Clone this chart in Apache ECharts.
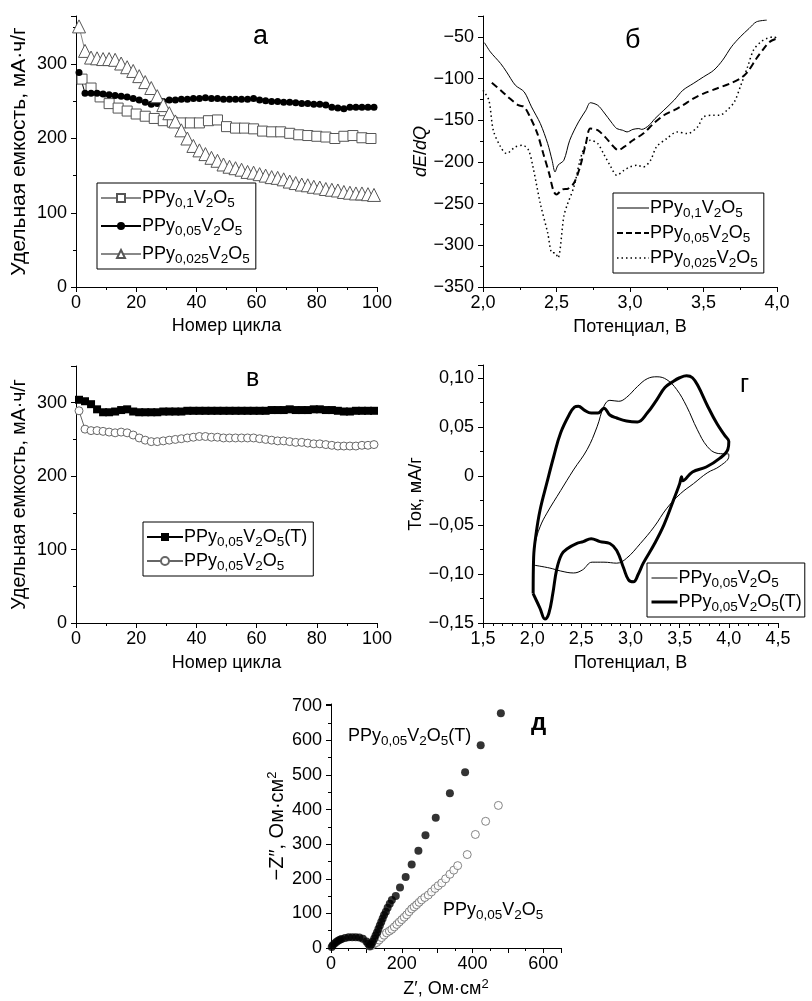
<!DOCTYPE html>
<html><head><meta charset="utf-8">
<script src="https://cdn.jsdelivr.net/npm/echarts@6/dist/echarts.min.js"></script>
<style>html,body{margin:0;padding:0;background:#fff}#c{width:812px;height:1001px}</style>
</head><body><div id="c"></div>
<script>
// ---------- DATA ----------
// Panel а: capacity vs cycle
const cycA = [1,3,5,7,9,11,13,15,17,19,21,23,25,27,29,31,33,35,37,39,41,43,45,47,49,51,53,55,57,59,61,63,65,67,69,71,73,75,77,79,81,83,85,87,89,91,93,95,97,99];
const cycA_sq = [2,5,8,11,14,17,20,23,26,29,32,35,38,41,44,47,50,53,56,59,62,65,68,71,74,77,80,83,86,89,92,95,98];
const capA_01 = [280,268,256,247,241,237,233,230,227,224,222,221,221,221,224,225,216,214,214,213,210,209,209,207,205,204,203,202,200,203,204,201,200];
const capA_005 = [289,261,261,261,260,259,258,257,256,254,252,249,246,247,250,252,252,253,253,254,254,255,254,254,253,253,253,253,253,254,252,251,250,250,249,249,248,247,247,246,246,245,242,241,240,242,242,242,242,242];
const capA_0025 = [351,318,309,308,307,307,306,301,296,291,284,276,268,257,245,234,223,211,200,190,184,179,174,170,165,162,160,158,155,154,152,150,148,147,145,142,140,138,137,135,134,132,131,130,128,127,126,126,125,124];

// Panel б: dE/dQ vs potential [V, dE/dQ]
const dqdv_01 = [[2.01,-57],[2.05,-68],[2.12,-82],[2.16,-92],[2.22,-108],[2.28,-116],[2.33,-134],[2.39,-154],[2.44,-178],[2.47,-198],[2.49,-212],[2.51,-204],[2.55,-198],[2.59,-174],[2.65,-152],[2.70,-138],[2.73,-129],[2.78,-132],[2.82,-140],[2.88,-154],[2.91,-160],[2.95,-162],[2.98,-164],[3.02,-161],[3.06,-160],[3.08,-161],[3.13,-156],[3.17,-148],[3.23,-138],[3.30,-126],[3.36,-114],[3.43,-106],[3.50,-98],[3.57,-90],[3.63,-78],[3.69,-62],[3.75,-50],[3.81,-40],[3.86,-32],[3.93,-30]];
const dqdv_005 = [[2.06,-105],[2.12,-114],[2.17,-122],[2.24,-132],[2.28,-134],[2.32,-146],[2.37,-166],[2.41,-190],[2.45,-214],[2.48,-235],[2.50,-239],[2.54,-233],[2.58,-232],[2.62,-225],[2.66,-206],[2.70,-178],[2.73,-160],[2.78,-162],[2.83,-170],[2.89,-182],[2.92,-186],[2.96,-182],[3.02,-174],[3.09,-166],[3.16,-154],[3.23,-144],[3.30,-138],[3.36,-132],[3.43,-124],[3.50,-118],[3.59,-112],[3.68,-106],[3.75,-100],[3.80,-92],[3.86,-76],[3.91,-64],[3.95,-56],[4.00,-52]];
const dqdv_0025 = [[2.00,-114],[2.04,-126],[2.07,-162],[2.12,-182],[2.16,-190],[2.22,-182],[2.27,-180],[2.31,-186],[2.34,-206],[2.39,-250],[2.44,-285],[2.47,-309],[2.49,-309],[2.51,-315],[2.55,-265],[2.57,-253],[2.62,-229],[2.66,-198],[2.70,-178],[2.73,-174],[2.78,-178],[2.82,-190],[2.87,-206],[2.91,-216],[2.96,-210],[3.00,-206],[3.05,-204],[3.09,-206],[3.14,-198],[3.18,-182],[3.25,-172],[3.32,-164],[3.39,-166],[3.46,-158],[3.50,-146],[3.57,-144],[3.61,-144],[3.66,-138],[3.71,-128],[3.75,-110],[3.80,-86],[3.84,-66],[3.89,-56],[3.93,-52],[3.98,-50],[4.00,-52]];

// Panel в: capacity vs cycle
const cycC = [1,3,5,7,9,11,13,15,17,19,21,23,25,27,29,31,33,35,37,39,41,43,45,47,49,51,53,55,57,59,61,63,65,67,69,71,73,75,77,79,81,83,85,87,89,91,93,95,97,99];
const capC_T = [304,302,298,291,287,287,288,290,291,288,287,287,287,287,288,288,288,288,289,289,289,289,289,289,289,289,289,289,289,289,289,289,290,290,290,291,290,290,290,291,291,290,290,289,288,288,289,289,289,289];
const capC_005 = [289,264,262,262,261,260,259,260,259,256,252,249,247,247,248,249,250,251,252,253,254,254,253,253,252,252,252,252,252,252,251,250,249,248,248,247,246,246,245,244,244,243,242,241,241,241,241,242,242,243];

// Panel г: CV [V, mA/g]
const cv_005 = [[2.015,-0.091],[2.18,-0.094],[2.29,-0.097],[2.42,-0.099],[2.51,-0.096],[2.61,-0.088],[2.73,-0.088],[2.86,-0.089],[2.96,-0.084],[3.10,-0.069],[3.24,-0.052],[3.37,-0.033],[3.51,-0.018],[3.64,-0.008],[3.78,0.003],[3.91,0.010],[4.0,0.020],[4.0,0.022],[3.88,0.023],[3.78,0.030],[3.68,0.047],[3.57,0.071],[3.47,0.088],[3.37,0.098],[3.27,0.101],[3.17,0.099],[3.07,0.091],[2.96,0.080],[2.88,0.076],[2.79,0.077],[2.73,0.071],[2.66,0.050],[2.56,0.027],[2.42,0.006],[2.29,-0.015],[2.15,-0.038],[2.08,-0.052],[2.03,-0.069],[2.015,-0.089]];
const cv_005T = [[2.01,-0.120],[2.08,-0.135],[2.13,-0.146],[2.17,-0.140],[2.21,-0.120],[2.25,-0.095],[2.30,-0.080],[2.36,-0.074],[2.45,-0.069],[2.52,-0.067],[2.60,-0.064],[2.69,-0.067],[2.79,-0.069],[2.86,-0.076],[2.93,-0.094],[2.98,-0.106],[3.03,-0.108],[3.08,-0.100],[3.13,-0.089],[3.24,-0.070],[3.34,-0.050],[3.44,-0.024],[3.50,-0.008],[3.52,-0.001],[3.53,-0.005],[3.63,0.004],[3.77,0.009],[3.91,0.018],[3.99,0.027],[4.0,0.035],[3.96,0.041],[3.88,0.053],[3.78,0.072],[3.69,0.091],[3.63,0.100],[3.57,0.102],[3.50,0.100],[3.43,0.096],[3.35,0.090],[3.27,0.078],[3.17,0.064],[3.07,0.055],[2.96,0.056],[2.86,0.059],[2.79,0.062],[2.73,0.069],[2.67,0.064],[2.60,0.064],[2.53,0.067],[2.47,0.071],[2.43,0.070],[2.38,0.063],[2.29,0.044],[2.22,0.020],[2.15,-0.007],[2.08,-0.035],[2.04,-0.059],[2.015,-0.083],[2.01,-0.120]];

// Panel д: Nyquist [Z', -Z'']
const eis_T = [[2,3],[5,8],[10,13],[15,17],[20,21],[25,24],[30,26],[40,29],[50,31],[60,31],[70,31],[80,30],[90,27],[100,19],[105,12],[110,6],[114,10],[118,18],[122,27],[126,36],[130,45],[134,55],[138,65],[142,75],[146,85],[150,95],[155,105],[160,116],[166,128],[172,139],[183,150],[195,175],[211,205],[228,241],[247,281],[267,326],[296,376],[336,447],[379,508],[423,586],[480,678]];
const eis_005 = [[110,5],[115,7],[122,12],[129,16],[136,23],[143,30],[150,37],[157,44],[165,49],[172,54],[179,61],[186,68],[193,75],[200,82],[207,89],[214,96],[221,105],[228,113],[235,119],[242,125],[249,132],[256,139],[265,146],[275,153],[284,162],[294,172],[303,180],[313,188],[324,200],[336,213],[347,225],[358,238],[385,270],[408,328],[437,366],[473,412]];

// ---------- STYLE ----------
const FONT = '"Liberation Sans", Arial, sans-serif';
const FS = 18;
const rich = {
  n: {fontSize: FS, fontFamily: FONT, fontWeight: 'normal', color: '#000', lineHeight: 22},
  s: {fontSize: 13.5, fontFamily: FONT, fontWeight: 'normal', color: '#000', lineHeight: 13, padding: [10, 0, 0, 0]},
  u: {fontSize: 13, fontFamily: FONT, fontWeight: 'normal', color: '#000', lineHeight: 13, padding: [0, 0, 9, 0]},
  i: {fontSize: FS, fontFamily: FONT, fontWeight: 'normal', color: '#000', lineHeight: 22, fontStyle: 'italic'},
  y: {fontSize: 20, fontFamily: FONT, fontWeight: 'normal', color: '#000', lineHeight: 22}
};
const L01 = '{n|PPy}{s|0,1}{n|V}{s|2}{n|O}{s|5}';
const L05 = '{n|PPy}{s|0,05}{n|V}{s|2}{n|O}{s|5}';
const L025 = '{n|PPy}{s|0,025}{n|V}{s|2}{n|O}{s|5}';
const L05T = L05 + '{n|(T)}';
const labelMap = {A1: L01, A2: L05, A3: L025, B1: L01, B2: L05, B3: L025, C1: L05T, C2: L05, D1: L05, D2: L05T};

const minus = s => s.replace('-', '\u2212');
function axis(grid, min, max, interval, minorSplit, fmt, name, nameGap, isY, nameSize) {
  return {
    type: 'value', gridIndex: grid, min: min, max: max, interval: interval,
    axisLine: {show: true, onZero: false, lineStyle: {color: '#000', width: 1}},
    axisTick: {show: true, length: 5, lineStyle: {color: '#000', width: 1}},
    minorTick: {show: minorSplit > 1, splitNumber: minorSplit, length: 3, lineStyle: {color: '#000', width: 1}},
    splitLine: {show: false}, minorSplitLine: {show: false},
    axisLabel: {color: '#000', fontSize: FS, fontFamily: FONT, margin: isY ? 9 : 7, formatter: fmt, showMaxLabel: true},
    name: name, nameLocation: 'middle', nameGap: nameGap, nameRotate: isY ? 90 : 0,
    nameTextStyle: {color: '#000', fontSize: nameSize || FS, fontFamily: FONT, rich: rich}
  };
}
const intFmt = v => minus(String(Math.round(v)));
const f1 = v => minus(v.toFixed(1).replace('.', ','));
const f2 = v => v === 0 ? '0' : minus(v.toFixed(2).replace('.', ','));
const onlyMult = (m, f) => v => (Math.abs(v / m - Math.round(v / m)) < 1e-6 ? f(v) : '');

const pairs = (xs, ys) => xs.map((x, i) => [x, ys[i]]);

const legendBase = {
  orient: 'vertical', borderColor: '#000', borderWidth: 1, backgroundColor: '#fff',
  itemHeight: 10, formatter: n => labelMap[n], textStyle: {rich: rich, color: '#000', padding: [0, 0, 0, -4]},
  selectedMode: false
};

const option = {
  backgroundColor: '#fff',
  animation: false,
  title: [
    {text: 'а', left: 248, top: 18, textStyle: {fontSize: 27, fontWeight: 'normal', fontFamily: FONT, color: '#000'}},
    {text: 'б', left: 620, top: 22, textStyle: {fontSize: 27, fontWeight: 'normal', fontFamily: FONT, color: '#000'}},
    {text: 'в', left: 241, top: 362, textStyle: {fontSize: 25, fontWeight: 'normal', fontFamily: FONT, color: '#000'}},
    {text: 'г', left: 735, top: 368, textStyle: {fontSize: 25, fontWeight: 'normal', fontFamily: FONT, color: '#000'}},
    {text: 'д', left: 526, top: 706, textStyle: {fontSize: 24, fontWeight: 'bold', fontFamily: FONT, color: '#000'}},
    {text: L05T, left: 343, top: 720, textStyle: {rich: rich, fontWeight: 'normal'}},
    {text: L05, left: 438, top: 894, textStyle: {rich: rich, fontWeight: 'normal'}}
  ],
  grid: [
    {left: 76, top: 16, width: 301, height: 271},
    {left: 483, top: 16, width: 294, height: 271},
    {left: 76, top: 366, width: 301, height: 257},
    {left: 483, top: 365, width: 295, height: 258},
    {left: 331, top: 704, width: 230, height: 248}
  ],
  xAxis: [
    axis(0, 0, 100, 20, 2, intFmt, 'Номер цикла', 30, false),
    axis(1, 2, 4, 0.5, 2, f1, 'Потенциал, В', 31, false),
    axis(2, 0, 100, 20, 2, intFmt, 'Номер цикла', 31, false),
    axis(3, 1.5, 4.5, 0.5, 5, f1, 'Потенциал, В', 31, false),
    axis(4, 0, 650, 100, 2, onlyMult(200, intFmt), '{n|Z′, Ом·см}{u|2}', 30, false)
  ],
  yAxis: [
    axis(0, 0, 365, 100, 2, onlyMult(100, intFmt), 'Удельная емкость, мА·ч/г', 46, true, 21),
    axis(1, -350, -25, 50, 2, onlyMult(50, intFmt), '{i|dE}{n|/}{i|dQ}', 50, true),
    axis(2, 0, 350, 100, 2, onlyMult(100, intFmt), 'Удельная емкость, мА·ч/г', 46, true, 19.5),
    axis(3, -0.15, 0.113, 0.05, 2, onlyMult(0.05, f2), 'Ток, мА/г', 58, true),
    axis(4, 0, 705, 100, 2, onlyMult(100, intFmt), '{y|−Z″, Ом·см}{u|2}', 42, true)
  ],
  legend: [
    Object.assign({}, legendBase, {data: ['A1', 'A2', 'A3'], left: 97, top: 183, itemWidth: 40, itemGap: 4, padding: [3, 6, 3, 3]}),
    Object.assign({}, legendBase, {data: [
      {name: 'B1', lineStyle: {width: 1, type: 'solid'}},
      {name: 'B2', lineStyle: {width: 2, type: [6, 3]}},
      {name: 'B3', lineStyle: {width: 1.5, type: [1.5, 3]}}
    ], left: 613, top: 193, itemWidth: 32, itemGap: 1, padding: [3, 6, 3, 3], itemStyle: {opacity: 0}}),
    Object.assign({}, legendBase, {data: ['C1', 'C2'], left: 143, top: 522, itemWidth: 36, itemGap: 0, padding: [3, 6, 3, 3]}),
    Object.assign({}, legendBase, {data: [
      {name: 'D1', lineStyle: {width: 1}},
      {name: 'D2', lineStyle: {width: 3}}
    ], left: 647, top: 563, itemWidth: 26, itemGap: 0, padding: [3, 3, 3, 3], itemStyle: {opacity: 0}})
  ],
  series: [
    {name: 'A1', type: 'line', xAxisIndex: 0, yAxisIndex: 0, data: pairs(cycA_sq, capA_01), symbol: 'rect', symbolSize: 10,
      lineStyle: {color: '#888', width: 1}, itemStyle: {color: '#fff', borderColor: '#555', borderWidth: 1}},
    {name: 'A2', type: 'line', xAxisIndex: 0, yAxisIndex: 0, data: pairs(cycA, capA_005), symbol: 'circle', symbolSize: 7,
      lineStyle: {color: '#000', width: 1}, itemStyle: {color: '#000'}},
    {name: 'A3', type: 'line', xAxisIndex: 0, yAxisIndex: 0, data: pairs(cycA, capA_0025), symbol: 'triangle', symbolSize: 13,
      lineStyle: {color: '#888', width: 1}, itemStyle: {color: '#fff', borderColor: '#555', borderWidth: 1}},
    {name: 'B1', type: 'line', xAxisIndex: 1, yAxisIndex: 1, data: dqdv_01, showSymbol: false, symbol: 'none', smooth: 0.3,
      lineStyle: {color: '#000', width: 1}, itemStyle: {color: '#000'}},
    {name: 'B2', type: 'line', xAxisIndex: 1, yAxisIndex: 1, data: dqdv_005, showSymbol: false, symbol: 'none', smooth: 0.3,
      lineStyle: {color: '#000', width: 2, type: [7, 4]}, itemStyle: {color: '#000'}},
    {name: 'B3', type: 'line', xAxisIndex: 1, yAxisIndex: 1, data: dqdv_0025, showSymbol: false, symbol: 'none', smooth: 0.3,
      lineStyle: {color: '#000', width: 1.5, type: [1.5, 3]}, itemStyle: {color: '#000'}},
    {name: 'C2', type: 'line', xAxisIndex: 2, yAxisIndex: 2, data: pairs(cycC, capC_005), symbol: 'circle', symbolSize: 8,
      lineStyle: {color: '#666', width: 1}, itemStyle: {color: '#fff', borderColor: '#666', borderWidth: 1}},
    {name: 'C1', type: 'line', xAxisIndex: 2, yAxisIndex: 2, data: pairs(cycC, capC_T), symbol: 'rect', symbolSize: 8,
      lineStyle: {color: '#000', width: 1}, itemStyle: {color: '#000'}},
    {name: 'D1', type: 'line', xAxisIndex: 3, yAxisIndex: 3, data: cv_005, showSymbol: false, symbol: 'none', smooth: 0.4,
      lineStyle: {color: '#000', width: 1}, itemStyle: {color: '#000'}},
    {name: 'D2', type: 'line', xAxisIndex: 3, yAxisIndex: 3, data: cv_005T, showSymbol: false, symbol: 'none', smooth: 0.4,
      lineStyle: {color: '#000', width: 3}, itemStyle: {color: '#000'}},
    {name: 'E2', type: 'scatter', xAxisIndex: 4, yAxisIndex: 4, data: eis_005, symbol: 'circle', symbolSize: 8,
      itemStyle: {color: '#fff', borderColor: '#666', borderWidth: 1}},
    {name: 'E1', type: 'scatter', xAxisIndex: 4, yAxisIndex: 4, data: eis_T, symbol: 'circle', symbolSize: 8,
      itemStyle: {color: '#000'}}
  ]
};
const chart = echarts.init(document.getElementById('c'), null, {renderer: 'canvas'});
chart.setOption(option);
</script>
</body></html>
